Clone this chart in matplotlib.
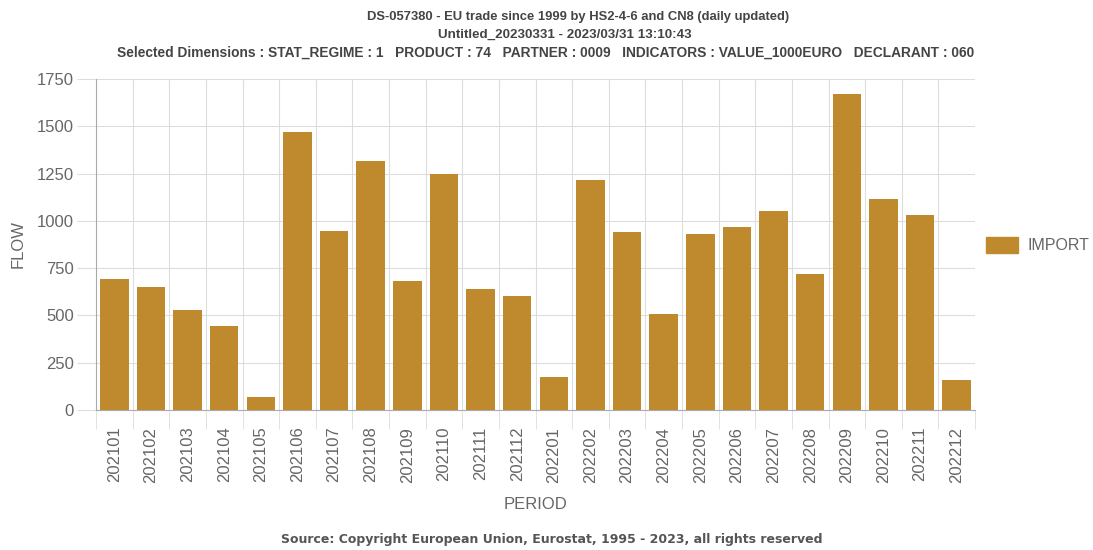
import matplotlib.pyplot as plt
import numpy as np
from matplotlib.patches import Patch

# data
periods = ['202101', '202102', '202103', '202104', '202105', '202106',
           '202107', '202108', '202109', '202110', '202111', '202112',
           '202201', '202202', '202203', '202204', '202205', '202206',
           '202207', '202208', '202209', '202210', '202211', '202212']
imports = [690, 648, 528, 442, 68, 1470, 945, 1315, 680, 1250, 638, 605,
           172, 1218, 940, 508, 928, 968, 1053, 717, 1670, 1113, 1033, 158]
yticks = [0, 250, 500, 750, 1000, 1250, 1500, 1750]

titel = ["DS-057380 - EU trade since 1999 by HS2-4-6 and CN8 (daily updated)",
         "Untitled_20230331 - 2023/03/31 13:10:43",
         "Selected Dimensions : STAT_REGIME : 1   PRODUCT : 74   PARTNER : 0009   "
         "INDICATORS : VALUE_1000EURO   DECLARANT : 060"]
kaynak = "Source: Copyright European Union, Eurostat, 1995 - 2023, all rights reserved"

bar_renk = '#BF8A2E'
gri = '#666666'
izgara = '#DDDDDD'

plt.rcParams['font.family'] = ['Liberation Sans', 'DejaVu Sans']

fig = plt.figure(figsize=(10.93, 5.5), dpi=100)
ax = fig.add_axes([96/1093, 1-410/550, (975-96)/1093, (410-79)/550])

x = np.arange(len(periods))
ax.bar(x, imports, width=0.78, color=bar_renk, zorder=3)

ax.set_xlim(-0.5, len(periods)-0.5)
ax.set_ylim(0, 1750)
ax.set_yticks(yticks)
ax.set_yticklabels([str(v) for v in yticks])

# kategori sinirlari
ax.set_xticks(x)
ax.set_xticklabels(periods, rotation=90)
ax.set_xticks(np.arange(len(periods)+1)-0.5, minor=True)
ax.tick_params(axis='x', which='major', length=0, pad=12, labelsize=12, labelcolor=gri)
ax.tick_params(axis='x', which='minor', length=14, color=izgara, direction='out')
ax.tick_params(axis='y', length=14, color=izgara, labelsize=12, labelcolor=gri, pad=2)

ax.grid(True, axis='y', color=izgara, lw=0.8, zorder=0)
ax.grid(True, axis='x', which='minor', color=izgara, lw=0.8, zorder=0)

for s in ['top', 'right']:
    ax.spines[s].set_visible(False)
ax.spines['left'].set_color('#AAAAAA')
ax.spines['bottom'].set_color('#AAAAAA')

ax.set_ylabel('FLOW', fontsize=12, color=gri, labelpad=8)
ax.set_xlabel('PERIOD', fontsize=12, color=gri, labelpad=10)

fig.legend(handles=[Patch(color=bar_renk, label='IMPORT')],
           loc='center left', bbox_to_anchor=(986/1093, 1-245/550),
           frameon=False, fontsize=11.5, handlelength=2.0, handleheight=1.2,
           handletextpad=0.6, borderaxespad=0, borderpad=0,
           labelcolor=gri)

# baslik satirlari, orijinaldeki gibi hafif kaymis merkezler
merkezler = [578, 565, 546]
boyutlar = [9.4, 9.6, 9.9]
for i, satir in enumerate(titel):
    fig.text(merkezler[i]/1093, 1-(17+18*i)/550, satir, ha='center', va='center',
             fontsize=boyutlar[i], fontweight='bold', color='#444444')

fig.text(552/1093, 1-540/550, kaynak, ha='center', va='center',
         fontsize=9, fontweight='bold', color='#555555', family='DejaVu Sans')

fig.savefig('out.png', dpi=100)
